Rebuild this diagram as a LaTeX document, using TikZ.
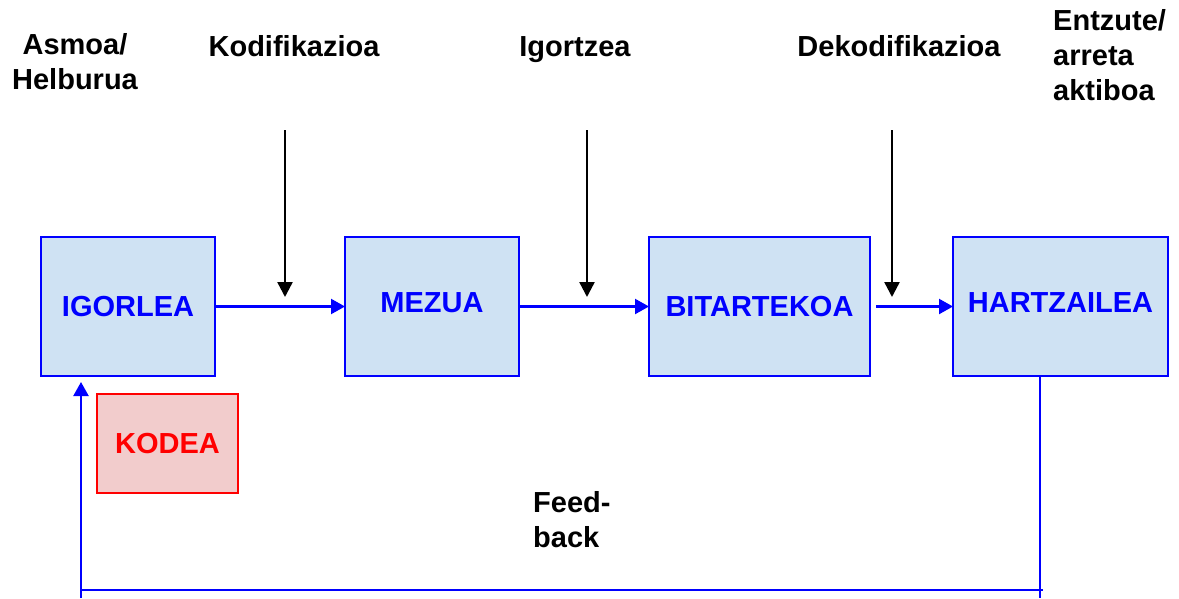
\documentclass[tikz,border=0pt]{standalone}
\usepackage{fontspec}
\setmainfont{Liberation Sans}
\usepackage{tikz}
\usetikzlibrary{arrows.meta,positioning}
\definecolor{boxfill}{RGB}{207,226,243}
\definecolor{codefill}{RGB}{242,204,204}
\tikzset{
    boxnode/.style={align=center,inner sep=0pt,outer sep=0pt,rectangle,line width=1.8pt,font=\bfseries\fontsize{29}{35}\selectfont},
    bluenode/.style={boxnode,draw=blue,fill=boxfill,text=blue,minimum width=174pt,minimum height=139pt},
    rednode/.style={boxnode,draw=red,fill=codefill,text=red,minimum width=141pt,minimum height=99pt},
    caption/.style={inner sep=0pt,font=\bfseries\fontsize{29}{35}\selectfont},
    flowline/.style={draw=blue,line width=2.2pt,-{Triangle[length=14pt,width=15pt]}},
    feedline/.style={draw=blue,line width=2.2pt},
    tickline/.style={draw=black,line width=2.4pt,-{Triangle[length=15pt,width=15pt]}}
}
\begin{document}
\begin{tikzpicture}[x=1pt,y=-1pt,node distance=130pt]
\useasboundingbox (0,0) rectangle (1179,598);

% main chain
\node[bluenode] (IG) at (128,306.5) {IGORLEA};
\node[bluenode,text depth=7pt] (ME) [right=of IG] {MEZUA};
\node[bluenode,minimum width=221pt] (BI) [right=of ME] {BITARTEKOA};
\node[bluenode,minimum width=215pt,text depth=7pt] (HA) [right=83pt of BI] {HARTZAILEA};
\node[rednode] (KO) at (167.5,443.5) {KODEA};

% captions
\node[caption,align=center,anchor=north] (AS) at (75,33) {Asmoa/\\Helburua};
\node[caption,anchor=base] (KD) at (294,56) {Kodifikazioa};
\node[caption,anchor=base] (IT) at (575,56) {Igortzea};
\node[caption,anchor=base] (DK) at (899,56) {Dekodifikazioa};
\node[caption,align=left,anchor=north west] (EN) at (1053,9) {Entzute/\\arreta\\aktiboa};
\node[caption,align=left,anchor=north west] (FB) at (533,491) {Feed-\\back};

% ticks from above
\coordinate (kdtop) at (285,130);  \coordinate (kdtip) at (285,297);
\coordinate (ittop) at (587,130);  \coordinate (ittip) at (587,297);
\coordinate (dktop) at (892,130);  \coordinate (dktip) at (892,297);
\draw[tickline] (kdtop) -- (kdtip);
\draw[tickline] (ittop) -- (ittip);
\draw[tickline] (dktop) -- (dktip);

\path
(IG) edge[flowline] (ME)
(ME) edge[flowline] (BI)
(BI) edge[flowline,shorten <=6pt] (HA)
;

% feedback loop
\coordinate (fbR) at (1040,598);
\coordinate (fbL) at (81,598);
\coordinate (fbRc) at (1043,590);
\coordinate (fbLc) at (81,590);
\draw[feedline] (HA.south -| fbR) -- (fbR);
\draw[feedline] (fbLc) -- (fbRc);
\draw[flowline,shorten >=6pt] (fbL) -- (IG.south -| fbL);
\end{tikzpicture}
\end{document}
